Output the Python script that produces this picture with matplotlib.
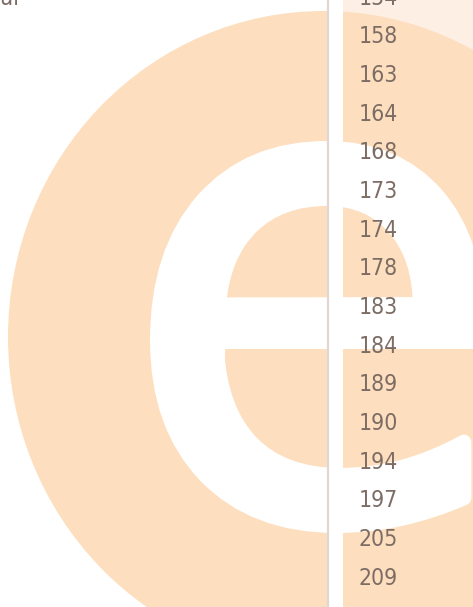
import matplotlib
matplotlib.use("Agg")
import matplotlib.pyplot as plt
from matplotlib.patches import Ellipse, Rectangle, PathPatch
from matplotlib.textpath import TextPath
from matplotlib.font_manager import FontProperties
from matplotlib.transforms import Affine2D

# Values in the visible column (the first one is cut by the top edge)
values = [154, 158, 163, 164, 168, 173, 174, 178, 183, 184, 189, 190, 194, 197, 205, 209]
header_text = "Total"

W, H = 473, 607
PEACH = "#fddfbf"
LIGHT = "#fdefe3"
TEXT = "#7d6c64"
LINE = "#e2d6d2"

fig = plt.figure(figsize=(W / 100, H / 100), dpi=100)

# decoration layer, in pixel units
bg = fig.add_axes([0, 0, 1, 1])
bg.set_xlim(0, W)
bg.set_ylim(H, 0)
bg.axis("off")

# highlighted column background
bg.add_patch(Rectangle((343, 0), W - 343, H, color=LIGHT, lw=0))

# big "e" watermark: peach disc with a white e on it
bg.add_patch(Ellipse((323.5, 337), 631, 652, color=PEACH, lw=0))
tp = TextPath((0, 0), "e", size=1, prop=FontProperties(family="DejaVu Sans"))
ext = tp.get_extents()
grow = 15  # extra stroke weight in px, the watermark is heavier than DejaVu
sx = 362 / ext.height
sy = 377 / ext.height
tr = (Affine2D().translate(-ext.x0, -ext.y1).scale(sx, -sy)
      .translate(150 + grow / 2, 141 + grow / 2))
bg.add_patch(PathPatch(tr.transform_path(tp), facecolor="white",
                       edgecolor="white", lw=grow * 72 / 100, joinstyle="round"))
# the crossbar of the watermark is thinner than the rest
bg.add_patch(Rectangle((225, 349), W - 225, 10, color=PEACH, lw=0))

# gap between the two columns + separator
bg.add_patch(Rectangle((329, 0), 14, H, color="white", lw=0))
bg.axvline(328, color=LINE, lw=1.6)

bg.text(19, 5, header_text, ha="right", va="baseline", fontsize=16.5,
        color=TEXT, family="DejaVu Sans", fontstretch="condensed")

# number column
col = fig.add_axes([343 / W, 0, (W - 343) / W, 1])
col.set_xlim(0, 1)
col.set_ylim(15.79, 0.0957)
col.axis("off")
for i, v in enumerate(values):
    col.text(0.123, i + 0.217, str(v), ha="left", va="baseline", fontsize=16.5,
             color=TEXT, family="DejaVu Sans", fontstretch="condensed")

fig.savefig("out.png", dpi=100)
